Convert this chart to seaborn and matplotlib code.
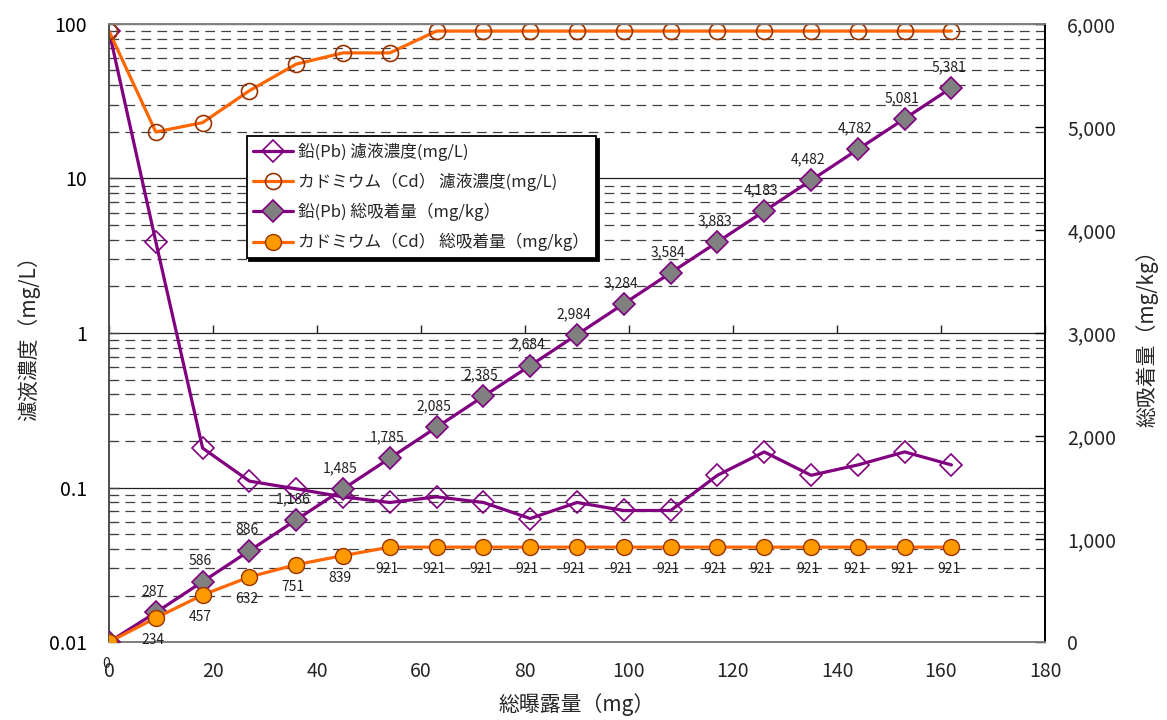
import matplotlib
matplotlib.use("Agg")
import matplotlib.pyplot as plt
import seaborn as sns
from matplotlib.markers import TICKUP
from matplotlib.ticker import FixedLocator, FuncFormatter, LogLocator, NullFormatter

# Total exposure (mg) at each sampling step
exposure_mg = [0, 9, 18, 27, 36, 45, 54, 63, 72, 81, 90, 99, 108, 117, 126, 135, 144, 153, 162]

# Filtrate concentration (mg/L), left log axis
pb_filtrate = [90, 3.9, 0.18, 0.11, 0.098, 0.087, 0.08, 0.087, 0.08, 0.063,
               0.08, 0.071, 0.071, 0.12, 0.17, 0.12, 0.14, 0.17, 0.14]
cd_filtrate = [90, 20, 23, 37, 55, 65, 65, 90, 90, 90,
               90, 90, 90, 90, 90, 90, 90, 90, 90]

# Cumulative adsorbed amount (mg/kg), right axis
pb_adsorbed = [0, 287, 586, 886, 1186, 1485, 1785, 2085, 2385, 2684,
               2984, 3284, 3584, 3883, 4183, 4482, 4782, 5081, 5381]
cd_adsorbed = [0, 234, 457, 632, 751, 839, 921, 921, 921, 921,
               921, 921, 921, 921, 921, 921, 921, 921, 921]

legend_labels = [
    "鉛(Pb) 濾液濃度(mg/L)",
    "カドミウム（Cd） 濾液濃度(mg/L)",
    "鉛(Pb) 総吸着量（mg/kg）",
    "カドミウム（Cd） 総吸着量（mg/kg）",
]
x_ticks = [0, 20, 40, 60, 80, 100, 120, 140, 160, 180]
x_axis_crossing = 1  # horizontal axis crosses the log axis at 1
left_ticks = [0.01, 0.1, 1, 10, 100]
right_ticks = [0, 1000, 2000, 3000, 4000, 5000, 6000]

sns.set_theme(style="white")
plt.rcParams["font.family"] = ["Noto Sans CJK JP", "DejaVu Sans"]
plt.rcParams["lines.scale_dashes"] = False

PURPLE = "#800080"
ORANGE = "#FF6600"
BROWN = "#993300"

fig = plt.figure(figsize=(11.67, 7.2), dpi=100)
ax = fig.add_axes([0.0934, 0.1083, 0.8021, 0.8584])
ax2 = ax.twinx()

# Filtrate concentrations (log scale)
sns.lineplot(x=exposure_mg, y=pb_filtrate, ax=ax, color=PURPLE, lw=2.3,
             marker="D", markersize=11, markerfacecolor="none",
             markeredgecolor=PURPLE, markeredgewidth=1.2, label=legend_labels[0],
             legend=False, zorder=3)
sns.lineplot(x=exposure_mg, y=cd_filtrate, ax=ax, color=ORANGE, lw=2.3,
             marker="o", markersize=11.5, markerfacecolor="none",
             markeredgecolor=BROWN, markeredgewidth=1.2, label=legend_labels[1],
             legend=False, zorder=3)

# Cumulative adsorption
sns.lineplot(x=exposure_mg, y=pb_adsorbed, ax=ax2, color=PURPLE, lw=2.3,
             marker="D", markersize=11, markerfacecolor="#808080",
             markeredgecolor=PURPLE, markeredgewidth=1.2, label=legend_labels[2],
             legend=False, zorder=3)
sns.lineplot(x=exposure_mg, y=cd_adsorbed, ax=ax2, color=ORANGE, lw=2.3,
             marker="o", markersize=11.5, markerfacecolor="#FF9900",
             markeredgecolor=BROWN, markeredgewidth=1.0, label=legend_labels[3],
             legend=False, zorder=4)

# Value labels
for xv, yv in zip(exposure_mg[1:], pb_adsorbed[1:]):
    ax2.annotate(f"{yv:,}", xy=(xv, yv), xytext=(-2, 15), textcoords="offset points",
                 ha="center", va="center", fontsize=10, color="#202020")
for xv, yv in zip(exposure_mg, cd_adsorbed):
    ax2.annotate(f"{yv:,}", xy=(xv, yv), xytext=(-2, -16), textcoords="offset points",
                 ha="center", va="center", fontsize=10, color="#202020")

# Left axis
ax.set_yscale("log")
ax.set_ylim(0.01, 100)
ax.set_xlim(0, 180)
ax.yaxis.set_major_locator(FixedLocator(left_ticks))
ax.yaxis.set_major_formatter(FuncFormatter(lambda v, p: f"{v:g}"))
ax.yaxis.set_minor_locator(LogLocator(base=10, subs=range(2, 10)))
ax.yaxis.set_minor_formatter(NullFormatter())
ax.yaxis.grid(True, which="major", color="#202020", lw=0.9, ls="-")
ax.yaxis.grid(True, which="minor", color="#404040", lw=0.9, ls=(0, (7, 4.5)))
ax.set_axisbelow(True)
ax.tick_params(axis="y", which="major", direction="in", length=7, width=1,
               labelsize=14, pad=16, left=True, colors="#404040", labelcolor="black")
ax.tick_params(axis="y", which="minor", direction="in", length=5, width=0.8,
               left=True, colors="#404040")

ax.xaxis.set_major_locator(FixedLocator(x_ticks))
ax.tick_params(axis="x", which="both", length=0, labelsize=14, pad=14)

# Upward tick marks on the horizontal axis line that crosses at 1
ax.plot(x_ticks, [x_axis_crossing] * len(x_ticks), ls="none", marker=TICKUP,
        markersize=6, markeredgewidth=1, color="#202020", zorder=2, clip_on=False)

# Right axis
ax2.set_ylim(0, 6000)
ax2.yaxis.set_major_locator(FixedLocator(right_ticks))
ax2.yaxis.set_major_formatter(FuncFormatter(lambda v, p: f"{int(v):,}"))
ax2.tick_params(axis="y", direction="in", length=7, width=1, labelsize=14, pad=16,
                right=True, color="black")
ax2.grid(False)

for a in (ax, ax2):
    a.spines["top"].set_color("#808080")
    a.spines["bottom"].set_color("#808080")
    a.spines["left"].set_color("#505050")
    a.spines["right"].set_color("black")
    for s in a.spines.values():
        s.set_linewidth(1.3)

ax.set_ylabel("濾液濃度（mg/L）", fontsize=15, labelpad=6)
ax2.set_ylabel("総吸着量（mg/kg）", fontsize=15, labelpad=14)
ax.set_xlabel("総曝露量（mg）", fontsize=15, labelpad=8)

handles = ax.get_lines()[:2] + ax2.get_lines()[:2]
leg = ax2.legend(handles, legend_labels, loc="upper left",
                 bbox_to_anchor=(0.147, 0.819), borderaxespad=0, fontsize=12,
                 frameon=True, fancybox=False, framealpha=1, edgecolor="black",
                 shadow={"color": "black", "alpha": 1},
                 handlelength=2.4, handletextpad=0.3, labelspacing=0.72,
                 borderpad=0.4)
leg.get_frame().set_linewidth(1.3)

fig.savefig("out.png", dpi=100)
